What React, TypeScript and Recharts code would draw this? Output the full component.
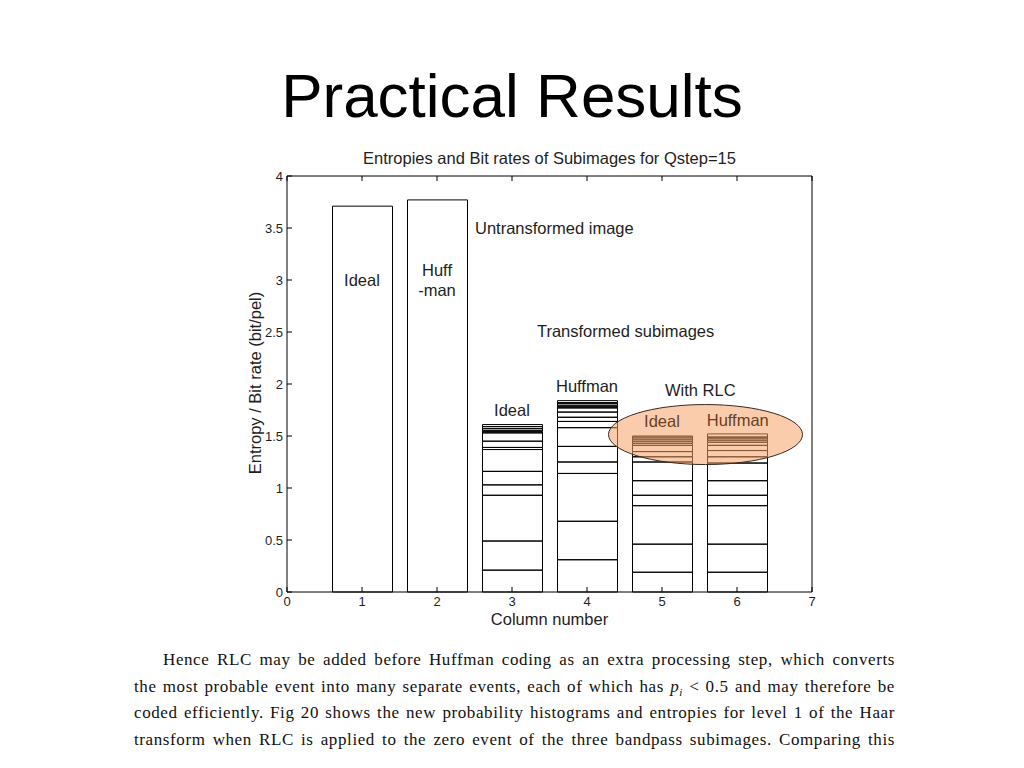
import { BarChart, Bar, XAxis, YAxis, ReferenceDot } from 'recharts';

const columns = [1, 2, 3, 4, 5, 6];
const xTicks = [0, 1, 2, 3, 4, 5, 6, 7];
const yTicks = [0, 0.5, 1, 1.5, 2, 2.5, 3, 3.5, 4];

// levels (bit/pel) where each stacked segment of a column ends, bottom to top
const untransformedIdeal = [3.71];
const untransformedHuffman = [3.77];
const subIdeal = [0.21, 0.49, 0.93, 1.03, 1.16, 1.37, 1.39, 1.45, 1.53, 1.54, 1.55, 1.57, 1.59, 1.61];
const subHuffman = [0.31, 0.68, 1.14, 1.25, 1.4, 1.58, 1.64, 1.68, 1.73, 1.77, 1.78, 1.79, 1.81, 1.82, 1.84];
const rlcIdeal = [0.19, 0.46, 0.83, 0.93, 1.07, 1.25, 1.3, 1.35, 1.41, 1.43, 1.45, 1.47, 1.49, 1.5];
const rlcHuffman = [0.19, 0.46, 0.83, 0.93, 1.07, 1.24, 1.3, 1.36, 1.41, 1.44, 1.46, 1.48, 1.49, 1.52];

const columnLevels = [untransformedIdeal, untransformedHuffman, subIdeal, subHuffman, rlcIdeal, rlcHuffman];
const segmentCount = Math.max(...columnLevels.map((l) => l.length));
const segmentKeys = Array.from({ length: segmentCount }, (_, i) => `s${i}`);

const data = columns.map((col, ci) => {
  const levels = columnLevels[ci];
  const row: Record<string, number> = { col };
  segmentKeys.forEach((key, i) => {
    row[key] = i < levels.length ? +(levels[i] - (i ? levels[i - 1] : 0)).toFixed(3) : 0;
  });
  return row;
});

const SANS = '"Liberation Sans", Arial, Helvetica, sans-serif';
const SERIF = '"Liberation Serif", "DejaVu Serif", serif';
const INK = '#1e1e1e';
const BROWN = '#6a3f22';

const note = (x: number, y: number, text: string, color = INK, anchor = 'middle') => (
  <ReferenceDot
    key={`${text}-${x}-${y}`}
    x={x}
    y={y}
    r={0}
    ifOverflow="visible"
    shape={(p: any) => (
      <text
        x={p.cx}
        y={p.cy}
        textAnchor={anchor}
        dominantBaseline="central"
        fontSize={16.5}
        fontFamily={SANS}
        fill={color}
      >
        {text}
      </text>
    )}
  />
);

const blank = () => '';

const paragraph = [
  'Hence RLC may be added before Huffman coding as an extra processing step, which converts',
  null,
  'coded efficiently. Fig 20 shows the new probability histograms and entropies for level 1 of the Haar',
  'transform when RLC is applied to the zero event of the three bandpass subimages. Comparing this',
];

export default function App() {
  const lineStyle = (i: number): React.CSSProperties => ({
    position: 'absolute',
    left: i === 0 ? 163 : 134,
    top: 646 + i * 26.7,
    width: i === 0 ? 732 : 761,
    height: 27,
    lineHeight: '27px',
    fontFamily: SERIF,
    fontSize: 17,
    letterSpacing: 0.6,
    color: '#111',
    textAlign: 'justify',
    textAlignLast: 'justify',
    whiteSpace: 'nowrap',
  });

  const label: React.CSSProperties = {
    position: 'absolute',
    textAlign: 'center',
    fontFamily: SANS,
    fontSize: 16.5,
    lineHeight: '20px',
    color: INK,
  };

  return (
    <div style={{ position: 'absolute', left: 0, top: 0, width: 1024, height: 768, background: '#fff', overflow: 'hidden' }}>
      <div
        style={{
          position: 'absolute',
          left: 0,
          top: 56,
          width: 1024,
          textAlign: 'center',
          fontFamily: SANS,
          fontSize: 62,
          lineHeight: '80px',
          color: '#000',
        }}
      >
        Practical Results
      </div>

      <div style={{ ...label, left: 287, top: 148, width: 525 }}>
        Entropies and Bit rates of Subimages for Qstep=15
      </div>

      <div style={{ ...label, left: 287, top: 609, width: 525 }}>Column number</div>

      <div style={{ ...label, left: 255 - 150, top: 383 - 10, width: 300, transform: 'rotate(-90deg)' }}>
        Entropy / Bit rate (bit/pel)
      </div>

      <div style={{ position: 'absolute', left: 200, top: 140 }}>
        <BarChart width={640} height={500} data={data} margin={{ top: 35, right: 27, bottom: 18, left: 27 }}>
          <XAxis
            dataKey="col"
            type="number"
            domain={[0, 7]}
            ticks={xTicks}
            interval={0}
            height={30}
            tickSize={-5}
            tickMargin={10}
            axisLine={{ stroke: '#000' }}
            tickLine={{ stroke: '#000' }}
            tick={{ fontSize: 13, fontFamily: SANS, fill: INK }}
          />
          <XAxis
            xAxisId="top"
            dataKey="col"
            orientation="top"
            type="number"
            domain={[0, 7]}
            ticks={xTicks}
            interval={0}
            height={1}
            tickSize={-5}
            tickFormatter={blank}
            axisLine={{ stroke: '#000' }}
            tickLine={{ stroke: '#000' }}
          />
          <YAxis
            type="number"
            domain={[0, 4]}
            ticks={yTicks}
            interval={0}
            width={60}
            tickSize={-5}
            tickMargin={9}
            axisLine={{ stroke: '#000' }}
            tickLine={{ stroke: '#000' }}
            tick={{ fontSize: 13, fontFamily: SANS, fill: INK }}
          />
          <YAxis
            yAxisId="right"
            orientation="right"
            type="number"
            domain={[0, 4]}
            ticks={yTicks}
            interval={0}
            width={1}
            tickSize={-5}
            tickFormatter={blank}
            axisLine={{ stroke: '#000' }}
            tickLine={{ stroke: '#000' }}
          />

          <ReferenceDot
            x={5.58}
            y={1.514}
            r={0}
            ifOverflow="visible"
            shape={(p: any) => (
              <ellipse cx={p.cx} cy={p.cy} rx={97} ry={30} fill="#f5a268" fillOpacity={0.55} stroke="#3a2a20" strokeWidth={1} />
            )}
          />

          {segmentKeys.map((key) => (
            <Bar
              key={key}
              dataKey={key}
              stackId="a"
              barSize={60}
              fill="none"
              stroke="#000"
              strokeWidth={1}
              isAnimationActive={false}
            />
          ))}

          {note(1, 3.0, 'Ideal')}
          {note(2, 3.1, 'Huff')}
          {note(2, 2.9, '-man')}
          {note(2.507, 3.5, 'Untransformed image', INK, 'start')}
          {note(3.333, 2.51, 'Transformed subimages', INK, 'start')}
          {note(4, 1.98, 'Huffman')}
          {note(3, 1.75, 'Ideal')}
          {note(5.51, 1.94, 'With RLC')}
          {note(5.0, 1.644, 'Ideal', BROWN)}
          {note(6.01, 1.654, 'Huffman', BROWN)}
        </BarChart>
      </div>

      <div style={lineStyle(0)}>{paragraph[0]}</div>
      <div style={lineStyle(1)}>
        the most probable event into many separate events, each of which has{' '}
        <i>p</i>
        <sub style={{ fontSize: 11, fontStyle: 'italic' }}>i</sub> &lt; 0.5 and may therefore be
      </div>
      <div style={lineStyle(2)}>{paragraph[2]}</div>
      <div style={lineStyle(3)}>{paragraph[3]}</div>
    </div>
  );
}
